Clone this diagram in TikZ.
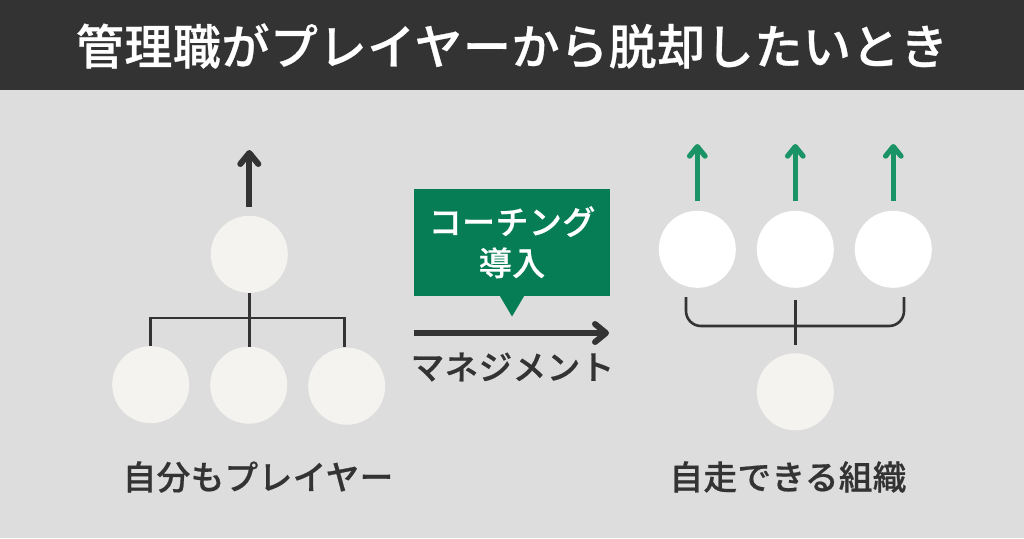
\documentclass[tikz,border=0pt]{standalone}
\usepackage{fontspec}
\usetikzlibrary{arrows.meta,positioning}
\newfontfamily\cjk[LetterSpace=1.2,FakeBold=0.6]{Noto Sans CJK JP Medium}
\definecolor{barcol}{HTML}{333333}
\definecolor{bgcol}{HTML}{DDDDDD}
\definecolor{spotcol}{HTML}{F4F3F0}
\definecolor{boxcol}{HTML}{067D55}
\definecolor{upcol}{HTML}{1A9467}
\tikzset{
  spot/.style={circle,fill=spotcol,inner sep=0pt,minimum size=77pt},
  whitespot/.style={spot,fill=white},
  link/.style={draw=barcol,line width=2.6pt},
  bigarrow/.style={draw=barcol,line width=6pt,-{Straight Barb[length=11pt,width=18pt,round]}},
  uparrow/.style={draw=upcol,line width=5.2pt,-{Straight Barb[length=9.5pt,width=15.5pt,round]}},
  label/.style={font=\cjk\fontsize{33.6}{40}\selectfont,text=barcol,inner sep=0pt}
}
\begin{document}
\begin{tikzpicture}[x=1pt,y=-1pt]
  \useasboundingbox (0,0) rectangle (1024,538);
  \fill[bgcol] (0,0) rectangle (1024,538);
  \fill[barcol] (0,0) rectangle (1024,90);
  \node[font=\cjk\fontsize{48}{56}\selectfont,text=white,inner sep=0pt] (title) at (512,46) {管理職がプレイヤーから脱却したいとき};

  % left side
  \node[spot] (A) at (249.3,254.3) {};
  \node[spot] (B1) at (150.7,384.7) {};
  \node[spot] (B2) at (248.7,385.2) {};
  \node[spot] (B3) at (346.7,386.2) {};
  \coordinate (Aup) at (249.3,150);
  \coordinate (hub) at (249,318);
  \coordinate (B3top) at (344.5,347);
  \draw[bigarrow,shorten <=9pt] (A) -- (Aup);
  \draw[link] (A.south) -- (A.south |- B2.north);
  \draw[link] (B1.north) |- (hub) -| (B3top);
  \node[label] (leftlabel) at (258,477) {自分もプレイヤー};

  % middle
  \node[fill=boxcol,text=white,font=\cjk\fontsize{33}{41}\selectfont,align=center,
    minimum width=195.5pt,minimum height=107.5pt,inner sep=0pt] (box) at (512,242.25) {コーチング\\導入};
  \coordinate (boxtip) at (512,316.5);
  \fill[boxcol] ([xshift=-12pt]box.south) -- (boxtip) -- ([xshift=12pt]box.south) -- cycle;
  \coordinate (flowa) at (414,333);
  \coordinate (flowb) at (609,333);
  \draw[bigarrow] (flowa) -- (flowb);
  \node[label] (flowlabel) at (512.5,367) {マネジメント};

  % right side
  \node[whitespot] (P1) at (697.3,249.3) {};
  \node[whitespot] (P2) at (795.3,249.3) {};
  \node[whitespot] (P3) at (893.3,249.3) {};
  \node[spot] (S) at (795.3,391.8) {};
  \foreach \n/\x in {P1/697.3,P2/795.3,P3/893.3} {
    \coordinate (\n up) at (\x,144);
    \draw[uparrow,shorten <=9.5pt] (\n) -- (\n up);
  }
  \coordinate (bl) at (686,297);
  \coordinate (br) at (904,297);
  \coordinate (bmid) at (795.3,326);
  \draw[link,rounded corners=15pt] (bl) |- (bmid) -| (br);
  \draw[link,shorten <=12pt,shorten >=8pt] (P2.south) -- (S.north);
  \node[label] (rightlabel) at (788,477) {自走できる組織};
\end{tikzpicture}
\end{document}
